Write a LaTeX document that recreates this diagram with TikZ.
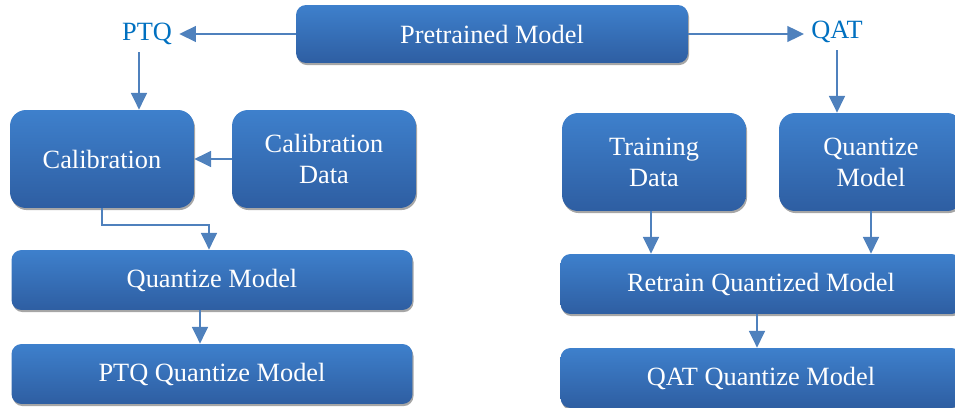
\documentclass[tikz,border=0pt]{standalone}
\usepackage{fontspec}
\setmainfont{Liberation Serif}
\usetikzlibrary{arrows.meta, positioning, calc, shadows}
\definecolor{boxtop}{RGB}{62,128,204}
\definecolor{boxbottom}{RGB}{46,94,162}
\definecolor{arrowblue}{RGB}{79,129,189}
\definecolor{labelblue}{RGB}{0,112,192}
\tikzset{
    my-box/.style={
        top color=boxtop, bottom color=boxbottom, draw=none, text=white, align=center,
        font=\fontsize{15}{17.6}\selectfont,
        drop shadow={shadow xshift=0.6pt, shadow yshift=-1.2pt, opacity=0.35, fill=black}
    },
    my-tall-box/.style={
        my-box, minimum width=3.68cm, minimum height=1.96cm, rounded corners=0.32cm
    },
    my-wide-box/.style={
        my-box, minimum width=8.02cm, minimum height=1.2cm, rounded corners=0.2cm
    },
    my-label/.style={
        text=labelblue, inner sep=4pt, font=\fontsize{15}{17.6}\selectfont
    },
    my-arrow/.style={
        draw=arrowblue, line width=1.1pt, -{Triangle[length=9.5pt, width=9pt]}
    },
}

\begin{document}
\begin{tikzpicture}[x=0.02cm, y=-0.02cm]

        % CANVAS
        \useasboundingbox (0, 0) rectangle (955, 408);
        \clip (0, 0) rectangle (955, 408);

        % TOP ROW ---------------------------------------------------------------
        \node[my-box, minimum width=7.84cm, minimum height=1.16cm, rounded corners=0.2cm]
                       (PRETRAINED) at (492, 34) {Pretrained Model};
        \node[my-label] (PTQ)        at (147, 34) {PTQ};
        \node[my-label] (QAT)        at (837, 32) {QAT};

        % TOP ROW WIRES
        \draw[my-arrow] (PRETRAINED.west) -- (PTQ.east);
        \draw[my-arrow] (PRETRAINED.east) -- (PRETRAINED.east -| QAT.west);

        % PTQ BRANCH ------------------------------------------------------------
        \node[my-tall-box] (CALIB)     at (102, 159)  {Calibration};
        \node[my-tall-box] (CALIBDATA) at (324, 159)  {Calibration\\Data};
        \node[my-wide-box] (QUANT)     at (212, 280)  {Quantize Model};
        \node[my-wide-box] (PTQQUANT)  at (212, 374)  {PTQ Quantize Model};

        % PTQ BRANCH WIRES
        \draw[my-arrow] ([xshift=-0.16cm]PTQ.south) -- ([xshift=-0.16cm]PTQ.south |- CALIB.north);
        \draw[my-arrow] (CALIBDATA.west) -- (CALIB.east);
        \draw[my-arrow] (CALIB.south) -- ++(0, 17) -| ([xshift=-0.06cm]QUANT.north);
        \draw[my-arrow] ([xshift=-0.24cm]QUANT.south) -- ([xshift=-0.24cm]PTQQUANT.north);

        % QAT BRANCH ------------------------------------------------------------
        \node[my-tall-box] (TRAIN)    at (654, 162) {Training\\Data};
        \node[my-tall-box] (QMODEL)   at (871, 162) {Quantize\\Model};
        \node[my-wide-box] (RETRAIN)  at (761, 284) {Retrain Quantized Model};
        \node[my-wide-box] (QATQUANT) at (761, 378) {QAT Quantize Model};

        % QAT BRANCH WIRES
        \draw[my-arrow] (QAT.south) -- (QAT.south |- QMODEL.north);
        \draw[my-arrow] ([xshift=-0.06cm]TRAIN.south) -- ([xshift=-0.06cm]TRAIN.south |- RETRAIN.north);
        \draw[my-arrow] (QMODEL.south) -- (QMODEL.south |- RETRAIN.north);
        \draw[my-arrow] ([xshift=-0.08cm]RETRAIN.south) -- ([xshift=-0.08cm]QATQUANT.north);

    \end{tikzpicture}
\end{document}
